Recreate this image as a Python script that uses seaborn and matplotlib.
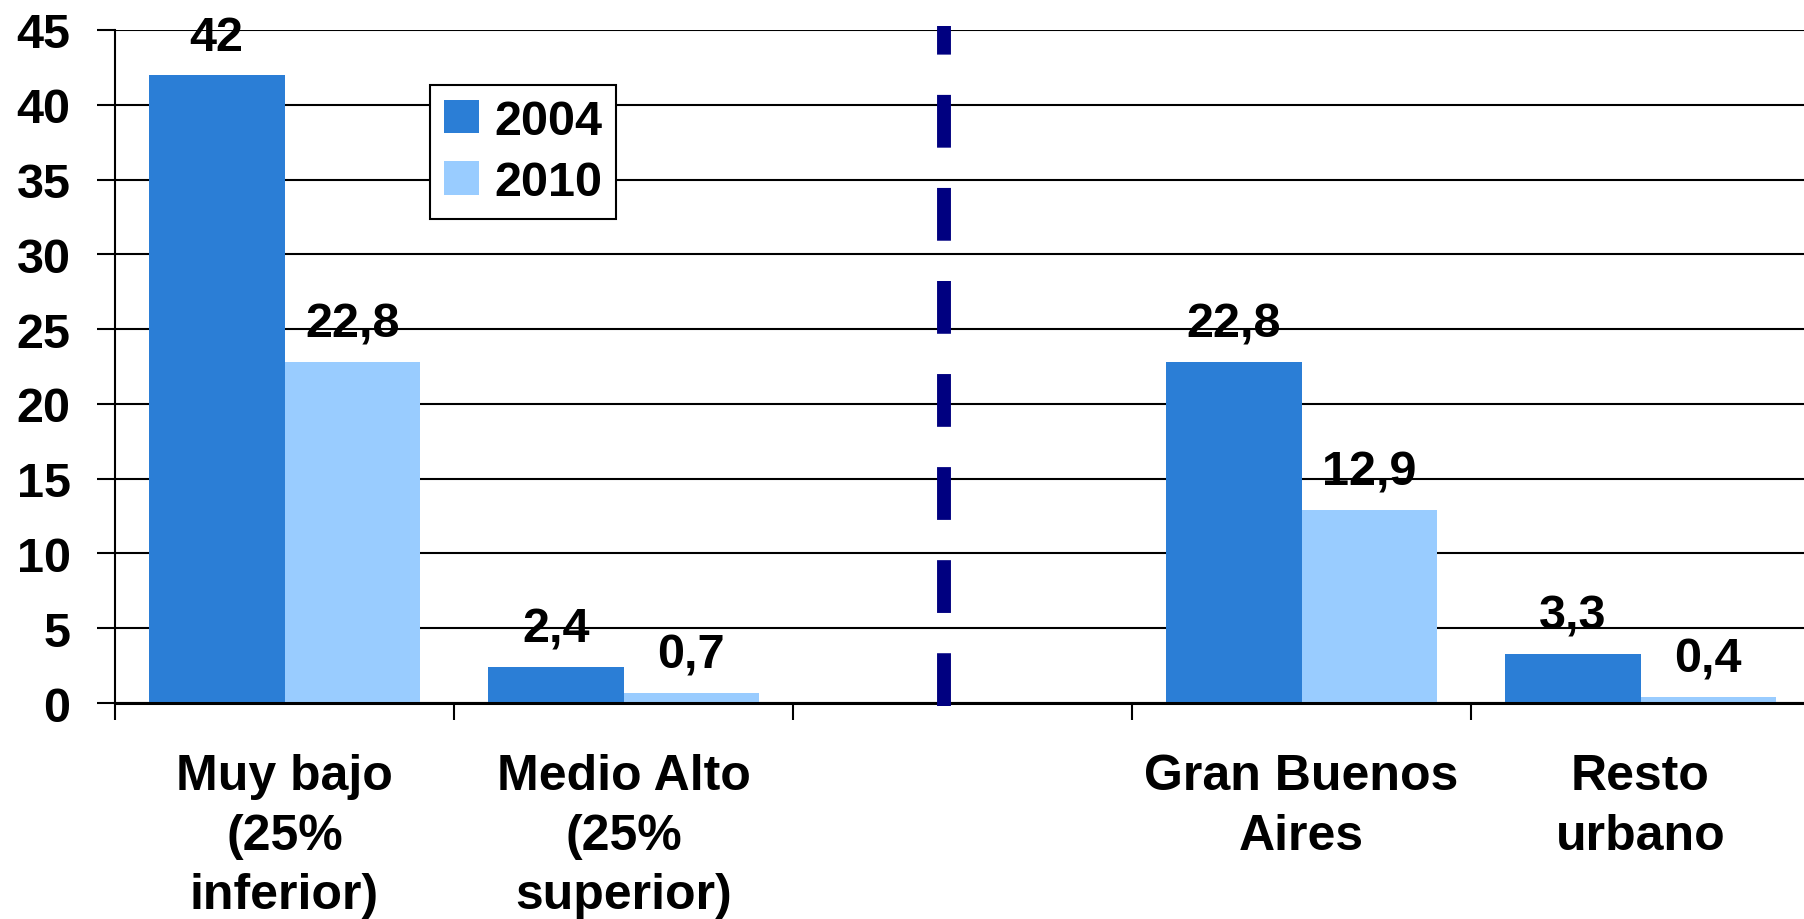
import pandas as pd
import matplotlib
matplotlib.use("Agg")
import matplotlib.pyplot as plt
import seaborn as sns

# --- DATA ---
categories = ["Muy bajo\n(25%\ninferior)", "Medio Alto\n(25%\nsuperior)",
              "Gran Buenos\nAires", "Resto\nurbano"]
slot_order = [categories[0], categories[1], " ", categories[2], categories[3]]
years = ["2004", "2010"]
values_2004 = [42, 2.4, 22.8, 3.3]
values_2010 = [22.8, 0.7, 12.9, 0.4]
y_ticks = [0, 5, 10, 15, 20, 25, 30, 35, 40, 45]

colors = {"2004": "#2B7ED6", "2010": "#99CCFF"}

df = pd.DataFrame({
    "grupo": categories * 2,
    "anio": [years[0]] * len(categories) + [years[1]] * len(categories),
    "valor": values_2004 + values_2010,
})

# --- STYLE ---
sns.set_style("white")
plt.rcParams["font.family"] = ["Liberation Sans", "DejaVu Sans"]
plt.rcParams["font.weight"] = "bold"
plt.rcParams["text.color"] = "black"
plt.rcParams["xtick.color"] = "black"
plt.rcParams["ytick.color"] = "black"
FS = 35

fig = plt.figure(figsize=(18.04, 9.2), dpi=100)
ax = fig.add_axes([115 / 1804, 1 - 704 / 920, 5 * 339 / 1804, 673 / 920])

sns.barplot(data=df, x="grupo", y="valor", hue="anio", order=slot_order,
            hue_order=years, palette=colors, saturation=1, width=0.8,
            linewidth=0, ax=ax)

ax.set_xlim(-0.5, 4.5)
ax.set_ylim(0, 45)
ax.set_xlabel("")
ax.set_ylabel("")

# gridlines and spines
ax.set_yticks(y_ticks)
ax.set_yticklabels([str(t) for t in y_ticks], fontsize=FS, fontweight="bold")
ax.yaxis.grid(True, color="black", linewidth=1.5)
ax.set_axisbelow(True)
for s in ["top", "right"]:
    ax.spines[s].set_visible(False)
ax.spines["left"].set_color("black")
ax.spines["left"].set_linewidth(1.5)
ax.spines["bottom"].set_color("black")
ax.spines["bottom"].set_linewidth(2.2)
ax.tick_params(axis="y", which="major", direction="out", length=13, width=1.5,
               color="black", pad=19, left=True, labelcolor="black")

# ticks between slots, labels centred on slots
ax.set_xticks([-0.5, 0.5, 1.5, 2.5, 3.5])
ax.set_xticklabels([])
ax.set_xticks(range(len(slot_order)), minor=True)
ax.set_xticklabels(slot_order, minor=True, fontsize=36, fontweight="bold",
                   linespacing=1.38)
ax.tick_params(axis="x", which="major", direction="out", length=12, width=1.5,
               color="black", bottom=True)
ax.tick_params(axis="x", which="minor", length=0, pad=36, labelcolor="black")

# value labels
for cont in ax.containers:
    ax.bar_label(cont, fmt=lambda v: f"{v:g}".replace(".", ","),
                 padding=11, fontsize=FS, fontweight="bold", color="black",
                 clip_on=False)

# dashed divider
ax.plot([1.945, 1.945], [-0.2, 45.27], color="#000080", linewidth=10,
        dashes=(3.8, 2.9), solid_capstyle="butt", dash_capstyle="butt",
        clip_on=False, zorder=5)

# legend
leg = ax.legend(loc="upper left", bbox_to_anchor=(430 / 1804, 1 - 86 / 920),
                bbox_transform=fig.transFigure, frameon=True, fancybox=False,
                framealpha=1, edgecolor="black", borderaxespad=0,
                handlelength=0.72, handleheight=0.68, handletextpad=0.32,
                labelspacing=0.34, borderpad=0.28, title=None,
                prop={"weight": "bold", "size": FS})
leg.get_frame().set_linewidth(1.5)
for t in leg.get_texts():
    t.set_color("black")

fig.savefig("out.png", dpi=100)
